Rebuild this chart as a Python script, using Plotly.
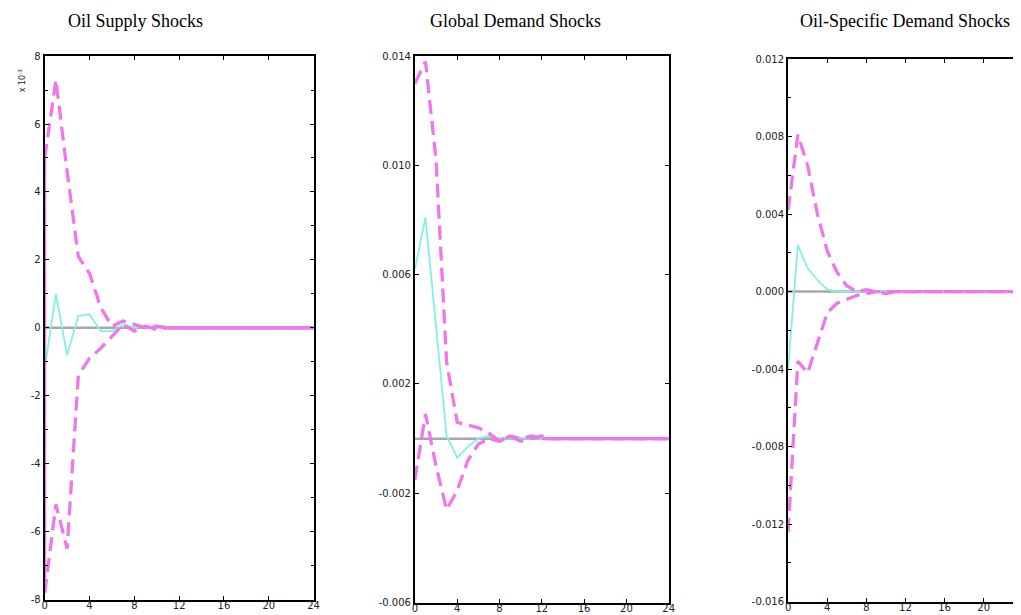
import plotly.graph_objects as go

horizon = list(range(25))
titles = ["Oil Supply Shocks", "Global Demand Shocks", "Oil-Specific Demand Shocks"]
x_ticks = [0, 4, 8, 12, 16, 20, 24]

# Panel 1 (values in units of 10^-3)
supply_upper = [5.0, 7.3, 4.6, 2.1, 1.6, 0.6, 0.05, 0.2, 0.1, 0.0, 0.05, 0.0] + [0.0] * 13
supply_lower = [-7.8, -5.2, -6.5, -1.4, -0.9, -0.6, -0.25, 0.1, -0.1, 0.05, -0.05, 0.0] + [0.0] * 13
supply_irf = [-1.2, 1.0, -0.8, 0.35, 0.4, -0.1, -0.1, 0.1, 0.0, 0.05, 0.0, 0.0] + [0.0] * 13
supply_ticks = [-8, -6, -4, -2, 0, 2, 4, 6, 8]

# Panel 2
global_upper = [0.0130, 0.0138, 0.0102, 0.0028, 0.0006, 0.0005, 0.0004, 0.0002, -0.0001,
                0.0001, 0.0, 0.0001, 0.0] + [0.0] * 12
global_lower = [-0.0015, 0.0009, -0.0010, -0.0026, -0.0019, -0.0008, -0.0002, 0.0, -0.0001,
                0.0001, -0.0001, 0.0, 0.0001] + [0.0] * 12
global_irf = [0.0062, 0.0081, 0.0041, 0.0001, -0.0007, -0.0003, 0.0, 0.0001, 0.0,
              0.0, 0.0, 0.0, 0.0] + [0.0] * 12
global_ticks = [-0.006, -0.002, 0.002, 0.006, 0.010, 0.014]

# Panel 3
spec_upper = [0.0042, 0.0081, 0.0065, 0.0040, 0.0021, 0.0010, 0.0003, 0.0, 0.0001, 0.0,
              -0.0001, 0.0, 0.0] + [0.0] * 12
spec_lower = [-0.0124, -0.0036, -0.0042, -0.0026, -0.0011, -0.0006, -0.0004, -0.0002, -0.0001,
              0.0, 0.0, 0.0, 0.0] + [0.0] * 12
spec_irf = [-0.0040, 0.0024, 0.0012, 0.0006, 0.0001, 0.0, 0.0, 0.0, 0.0, 0.0,
            0.0, 0.0, 0.0] + [0.0] * 12
spec_ticks = [-0.016, -0.012, -0.008, -0.004, 0.0, 0.004, 0.008, 0.012]

# layout geometry: target positions (in screenshot px) mapped to figure paper coords
OX, OY = 8, 8
W, H = 1021, 615
SX, BX = 0.988, 2.5
SY, BY = 0.976, 5.3
MAGENTA = "#ef76ec"
CYAN = "#84efe4"
GREY = "#a8a8a8"
DASH = "14px,7px"


def px(x):
    return ((x - BX) / SX - OX) / W


def py(y):
    return 1 - ((y - BY) / SY - OY) / H


panels = [
    dict(upper=supply_upper, lower=supply_lower, irf=supply_irf, ticks=supply_ticks,
         tlabels=[str(v) for v in supply_ticks], rng=[-8, 8], minor=1,
         xpx=(44, 312), ypx=(55, 596), spike=True, tcx=135, solid_from=11),
    dict(upper=global_upper, lower=global_lower, irf=global_irf, ticks=global_ticks,
         tlabels=[f"{v:.3f}" for v in global_ticks], rng=[-0.006, 0.014], minor=None,
         xpx=(413, 666), ypx=(55, 599), spike=False, tcx=513, solid_from=12),
    dict(upper=spec_upper, lower=spec_lower, irf=spec_irf, ticks=spec_ticks,
         tlabels=[f"{v:.3f}" for v in spec_ticks], rng=[-0.016, 0.012], minor=0.002,
         xpx=(785, 1019), ypx=(58, 598), spike=False, tcx=902, solid_from=None),
]

fig = go.Figure()
annotations = []
for i, p in enumerate(panels, start=1):
    xa = "x" if i == 1 else f"x{i}"
    ya = "y" if i == 1 else f"y{i}"
    zero = [0.0] * len(horizon)
    fig.add_trace(go.Scatter(x=horizon, y=zero, mode="lines", xaxis=xa, yaxis=ya,
                             line=dict(color=GREY, width=2.5), showlegend=False))
    fig.add_trace(go.Scatter(x=horizon, y=p["irf"], mode="lines", xaxis=xa, yaxis=ya,
                             line=dict(color=CYAN, width=1.8), showlegend=False))
    fig.add_trace(go.Scatter(x=horizon, y=p["upper"], mode="lines", xaxis=xa, yaxis=ya,
                             line=dict(color=MAGENTA, width=3.3, dash=DASH), showlegend=False))
    fig.add_trace(go.Scatter(x=horizon, y=p["lower"], mode="lines", xaxis=xa, yaxis=ya,
                             line=dict(color=MAGENTA, width=3.3, dash=DASH), showlegend=False))
    if p["solid_from"] is not None:
        s = p["solid_from"]
        fig.add_trace(go.Scatter(x=horizon[s:], y=p["upper"][s:], mode="lines",
                                 xaxis=xa, yaxis=ya,
                                 line=dict(color=MAGENTA, width=3.2), showlegend=False))
    if p["spike"]:
        fig.add_trace(go.Scatter(x=[horizon[0], horizon[0]], y=[p["lower"][0], p["upper"][0]],
                                 mode="lines", xaxis=xa, yaxis=ya,
                                 line=dict(color=MAGENTA, width=3), showlegend=False))
    x0, x1 = p["xpx"]
    y0, y1 = p["ypx"]
    axis_common = dict(showline=True, linecolor="black", linewidth=2, mirror="ticks",
                       ticks="inside", ticklen=4, tickwidth=1, tickcolor="black",
                       showgrid=False, zeroline=False,
                       tickfont=dict(family="DejaVu Sans", size=10, color="#222"))
    xaxis = dict(axis_common, domain=[px(x0), px(x1)], range=[0, 24], tickvals=x_ticks,
                 anchor=ya, ticklabelstandoff=-5)
    yaxis = dict(axis_common, domain=[py(y1), py(y0)], range=p["rng"],
                 tickvals=p["ticks"], ticktext=p["tlabels"], anchor=xa)
    if p["minor"]:
        yaxis["minor"] = dict(dtick=p["minor"], tick0=p["rng"][0], ticks="inside",
                              ticklen=3, tickcolor="black", showgrid=False)
    fig.update_layout(**{("xaxis" if i == 1 else f"xaxis{i}"): xaxis,
                         ("yaxis" if i == 1 else f"yaxis{i}"): yaxis})
    annotations.append(dict(text=titles[i - 1], x=px(p["tcx"]), y=py(20),
                            xref="paper", yref="paper", showarrow=False,
                            xanchor="center", yanchor="middle",
                            font=dict(family="Liberation Serif, Times New Roman", size=18,
                                      color="black")))

annotations.append(dict(text="x 10<sup>-3</sup>", x=px(14), y=py(66), xref="paper",
                        yref="paper", showarrow=False, textangle=-90,
                        font=dict(family="DejaVu Sans", size=8, color="#222")))

fig.update_layout(width=W, height=H, margin=dict(l=0, r=0, t=0, b=0),
                  paper_bgcolor="white", plot_bgcolor="white",
                  annotations=annotations, showlegend=False)
fig.write_html("out.html")
